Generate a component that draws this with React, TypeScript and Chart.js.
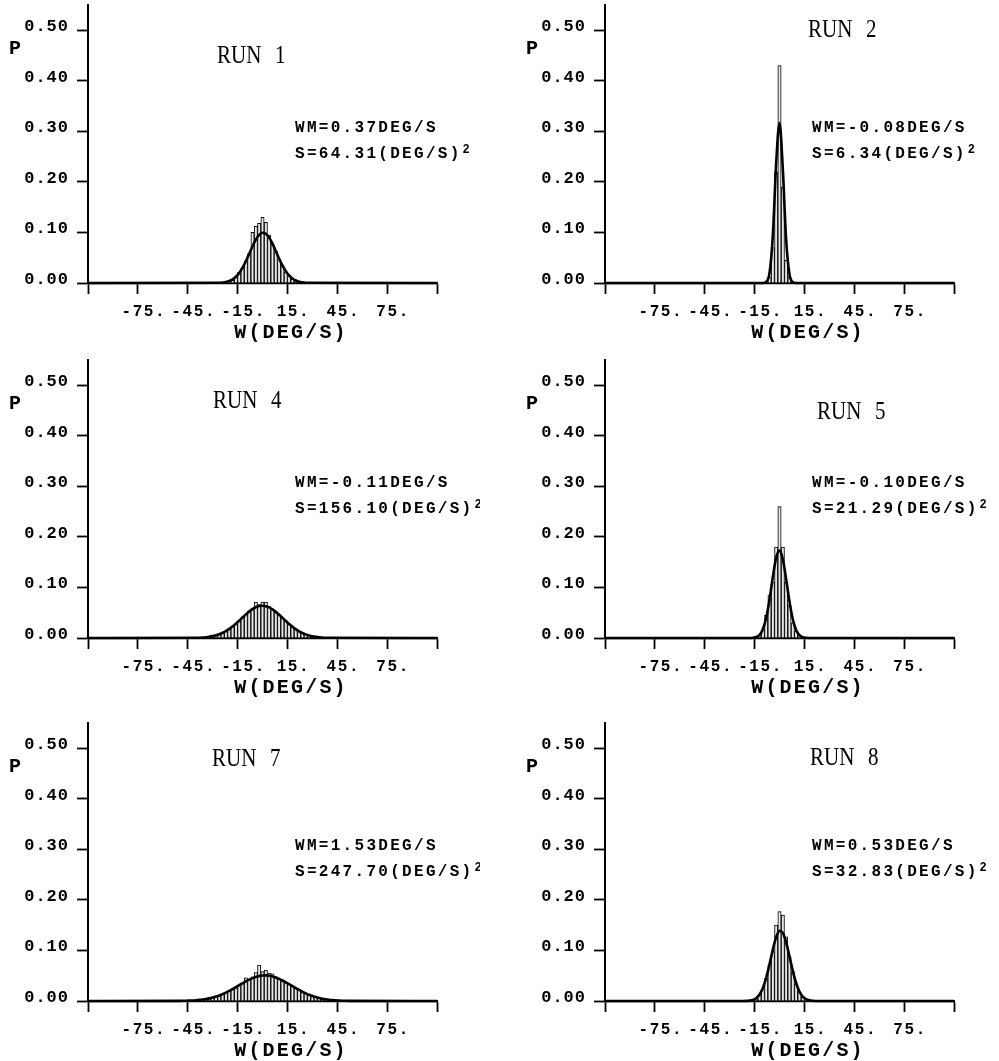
import React, { useEffect, useRef } from "react";
import { Chart, registerables } from "chart.js";

Chart.register(...registerables);

// ---------- axes ----------
const X_MIN = -105;
const X_MAX = 105;
const Y_MIN = 0;
const Y_MAX = 0.55;
const X_TICKS = [-105, -75, -45, -15, 15, 45, 75, 105];
const X_TICK_LABELS = ["", "-75.", "-45.", "-15.", "15.", "45.", "75.", ""];
const Y_TICKS = [0, 0.1, 0.2, 0.3, 0.4, 0.5];
const Y_TICK_LABELS = ["0.00", "0.10", "0.20", "0.30", "0.40", "0.50"];
const X_TITLE = "W(DEG/S)";
const Y_TITLE = "P";

// ---------- texts ----------
const RUN_NAMES = ["RUN 1", "RUN 2", "RUN 4", "RUN 5", "RUN 7", "RUN 8"];
const RUN_WM = ["WM=0.37DEG/S", "WM=-0.08DEG/S", "WM=-0.11DEG/S", "WM=-0.10DEG/S", "WM=1.53DEG/S", "WM=0.53DEG/S"];
const RUN_S = ["S=64.31(DEG/S)", "S=6.34(DEG/S)", "S=156.10(DEG/S)", "S=21.29(DEG/S)", "S=247.70(DEG/S)", "S=32.83(DEG/S)"];

// ---------- RUN 1 ----------
const RUN1_BIN_X = [-20, -18, -16, -14, -12, -10, -8, -6, -4, -2, 0, 2, 4, 6, 8, 10, 12, 14, 16, 18, 20, 22];
const RUN1_BARS = [0.003, 0.006, 0.012, 0.021, 0.029, 0.044, 0.058, 0.1, 0.112, 0.118, 0.13, 0.12, 0.095, 0.076, 0.062, 0.047, 0.034, 0.022, 0.014, 0.008, 0.004, 0.002];
const RUN1_CURVE_X = [-26, -24, -22, -20, -18, -16, -14, -12, -10, -8, -6, -4, -2, 0, 2, 4, 6, 8, 10, 12, 14, 16, 18, 20, 22, 24, 26];
const RUN1_CURVE = [0.0004, 0.001, 0.002, 0.004, 0.0072, 0.0124, 0.02, 0.0303, 0.0431, 0.0577, 0.0726, 0.0858, 0.0952, 0.0994, 0.0975, 0.0898, 0.0778, 0.0633, 0.0484, 0.0347, 0.0235, 0.0149, 0.0089, 0.005, 0.0026, 0.0013, 0.0006];

// ---------- RUN 2 ----------
const RUN2_BIN_X = [-8, -6, -4, -2, 0, 2, 4, 6, 8];
const RUN2_BARS = [0.002, 0.012, 0.07, 0.22, 0.43, 0.19, 0.045, 0.012, 0.002];
const RUN2_CURVE_X = [-10, -8, -6, -4, -2, 0, 2, 4, 6, 8, 10];
const RUN2_CURVE = [0.0001, 0.0023, 0.02, 0.0943, 0.237, 0.3167, 0.2253, 0.0853, 0.0172, 0.0018, 0.0001];

// ---------- RUN 4 ----------
const RUN4_BIN_X = [-36, -34, -32, -30, -28, -26, -24, -22, -20, -18, -16, -14, -12, -10, -8, -6, -4, -2, 0, 2, 4, 6, 8, 10, 12, 14, 16, 18, 20, 22, 24, 26, 28, 30, 32, 34, 36];
const RUN4_BARS = [0.001, 0.0015, 0.002, 0.004, 0.005, 0.008, 0.01, 0.014, 0.018, 0.024, 0.028, 0.033, 0.042, 0.047, 0.054, 0.058, 0.071, 0.066, 0.071, 0.071, 0.062, 0.057, 0.051, 0.047, 0.04, 0.034, 0.028, 0.022, 0.018, 0.013, 0.01, 0.007, 0.005, 0.004, 0.002, 0.0015, 0.001];
const RUN4_CURVE_X = [-40, -38, -36, -34, -32, -30, -28, -26, -24, -22, -20, -18, -16, -14, -12, -10, -8, -6, -4, -2, 0, 2, 4, 6, 8, 10, 12, 14, 16, 18, 20, 22, 24, 26, 28, 30, 32, 34, 36, 38, 40];
const RUN4_CURVE = [0.0004, 0.0006, 0.001, 0.0016, 0.0025, 0.0037, 0.0053, 0.0075, 0.0103, 0.0138, 0.018, 0.0229, 0.0284, 0.0344, 0.0406, 0.0467, 0.0523, 0.0571, 0.0608, 0.0631, 0.0639, 0.063, 0.0605, 0.0567, 0.0517, 0.046, 0.0399, 0.0338, 0.0278, 0.0223, 0.0175, 0.0133, 0.0099, 0.0072, 0.0051, 0.0035, 0.0024, 0.0015, 0.001, 0.0006, 0.0004];

// ---------- RUN 5 ----------
const RUN5_BIN_X = [-14, -12, -10, -8, -6, -4, -2, 0, 2, 4, 6, 8, 10, 12, 14];
const RUN5_BARS = [0.002, 0.005, 0.016, 0.045, 0.085, 0.11, 0.18, 0.26, 0.18, 0.11, 0.065, 0.03, 0.013, 0.005, 0.002];
const RUN5_CURVE_X = [-18, -16, -14, -12, -10, -8, -6, -4, -2, 0, 2, 4, 6, 8, 10, 12, 14, 16, 18];
const RUN5_CURVE = [0.0001, 0.0005, 0.0019, 0.0062, 0.0173, 0.0399, 0.0763, 0.121, 0.1589, 0.1729, 0.1559, 0.1165, 0.0722, 0.037, 0.0158, 0.0056, 0.0016, 0.0004, 0.0001];

// ---------- RUN 7 ----------
const RUN7_BIN_X = [-40, -38, -36, -34, -32, -30, -28, -26, -24, -22, -20, -18, -16, -14, -12, -10, -8, -6, -4, -2, 0, 2, 4, 6, 8, 10, 12, 14, 16, 18, 20, 22, 24, 26, 28, 30, 32, 34, 36, 38, 40];
const RUN7_BARS = [0.001, 0.002, 0.003, 0.004, 0.005, 0.007, 0.009, 0.011, 0.013, 0.017, 0.019, 0.024, 0.026, 0.031, 0.036, 0.046, 0.043, 0.048, 0.056, 0.071, 0.058, 0.061, 0.055, 0.054, 0.048, 0.044, 0.04, 0.037, 0.033, 0.029, 0.025, 0.022, 0.018, 0.015, 0.012, 0.01, 0.008, 0.006, 0.005, 0.003, 0.002];
const RUN7_CURVE_X = [-50, -48, -46, -44, -42, -40, -38, -36, -34, -32, -30, -28, -26, -24, -22, -20, -18, -16, -14, -12, -10, -8, -6, -4, -2, 0, 2, 4, 6, 8, 10, 12, 14, 16, 18, 20, 22, 24, 26, 28, 30, 32, 34, 36, 38, 40, 42, 44, 46, 48, 50, 52];
const RUN7_CURVE = [0.0002, 0.0004, 0.0005, 0.0008, 0.0011, 0.0016, 0.0022, 0.003, 0.004, 0.0052, 0.0068, 0.0087, 0.011, 0.0136, 0.0166, 0.0199, 0.0235, 0.0273, 0.0312, 0.035, 0.0388, 0.0422, 0.0452, 0.0477, 0.0494, 0.0505, 0.0507, 0.0501, 0.0487, 0.0466, 0.0439, 0.0406, 0.037, 0.0332, 0.0293, 0.0255, 0.0218, 0.0183, 0.0151, 0.0123, 0.0099, 0.0078, 0.006, 0.0046, 0.0035, 0.0026, 0.0019, 0.0013, 0.0009, 0.0006, 0.0004, 0.0003];

// ---------- RUN 8 ----------
const RUN8_BIN_X = [-16, -14, -12, -10, -8, -6, -4, -2, 0, 2, 4, 6, 8, 10, 12, 14, 16];
const RUN8_BARS = [0.002, 0.005, 0.012, 0.024, 0.045, 0.072, 0.098, 0.15, 0.177, 0.17, 0.127, 0.088, 0.058, 0.034, 0.017, 0.008, 0.003];
const RUN8_CURVE_X = [-22, -20, -18, -16, -14, -12, -10, -8, -6, -4, -2, 0, 2, 4, 6, 8, 10, 12, 14, 16, 18, 20, 22];
const RUN8_CURVE = [0.0001, 0.0002, 0.0007, 0.0022, 0.0056, 0.0127, 0.0257, 0.046, 0.0728, 0.1019, 0.1264, 0.1387, 0.1348, 0.116, 0.0883, 0.0596, 0.0356, 0.0188, 0.0088, 0.0036, 0.0013, 0.0004, 0.0001];

// ---------- layout (pixels) ----------
const COL_LEFT = [0, 500];
const COL_WIDTH = [480, 499];
const COL_AXIS = [88, 105];
const PLOT_W = 349;
const ROW_ZERO = [283, 638, 1001];
const ABOVE_ZERO = 290;
const BELOW_ZERO = 60;
const PLOT_H = 278;

type PanelDef = {
  idx: number;
  col: number;
  row: number;
  binX: number[];
  bars: number[];
  curveX: number[];
  curve: number[];
  runDx: number;
  runDy: number;
};

const PANELS: PanelDef[] = [
  { idx: 0, col: 0, row: 0, binX: RUN1_BIN_X, bars: RUN1_BARS, curveX: RUN1_CURVE_X, curve: RUN1_CURVE, runDx: 129, runDy: -220 },
  { idx: 1, col: 1, row: 0, binX: RUN2_BIN_X, bars: RUN2_BARS, curveX: RUN2_CURVE_X, curve: RUN2_CURVE, runDx: 203, runDy: -246 },
  { idx: 2, col: 0, row: 1, binX: RUN4_BIN_X, bars: RUN4_BARS, curveX: RUN4_CURVE_X, curve: RUN4_CURVE, runDx: 125, runDy: -230 },
  { idx: 3, col: 1, row: 1, binX: RUN5_BIN_X, bars: RUN5_BARS, curveX: RUN5_CURVE_X, curve: RUN5_CURVE, runDx: 212, runDy: -219 },
  { idx: 4, col: 0, row: 2, binX: RUN7_BIN_X, bars: RUN7_BARS, curveX: RUN7_CURVE_X, curve: RUN7_CURVE, runDx: 124, runDy: -235 },
  { idx: 5, col: 1, row: 2, binX: RUN8_BIN_X, bars: RUN8_BARS, curveX: RUN8_CURVE_X, curve: RUN8_CURVE, runDx: 205, runDy: -236 },
];

const MONO = '"Liberation Mono", "DejaVu Sans Mono", monospace';

function makeTextPlugin(p: PanelDef) {
  return {
    id: "panelText" + p.idx,
    afterDraw(chart: any) {
      const ctx: CanvasRenderingContext2D = chart.ctx;
      const xs = chart.scales.x;
      const ys = chart.scales.y;
      const ax = chart.chartArea.left;
      const zy = ys.getPixelForValue(0);
      const c: any = ctx;
      ctx.save();
      ctx.fillStyle = "#000";
      ctx.textBaseline = "alphabetic";

      // y tick labels
      ctx.font = "bold 17px " + MONO;
      c.letterSpacing = "1px";
      ctx.textAlign = "right";
      Y_TICKS.forEach((v, i) => {
        ctx.fillText(Y_TICK_LABELS[i], ax - 19, ys.getPixelForValue(v) + 1);
      });

      // x tick labels
      ctx.font = "bold 16px " + MONO;
      c.letterSpacing = "1.6px";
      ctx.textAlign = "center";
      X_TICKS.forEach((v, i) => {
        const t = X_TICK_LABELS[i];
        if (!t) return;
        ctx.fillText(t, xs.getPixelForValue(v) + 6, zy + 33);
      });

      // x title
      ctx.font = "bold 20px " + MONO;
      c.letterSpacing = "2.2px";
      ctx.textAlign = "center";
      ctx.fillText(X_TITLE, ax + 203, zy + 55);

      // y title
      ctx.font = "bold 20px " + MONO;
      c.letterSpacing = "0px";
      ctx.textAlign = "left";
      ctx.fillText(Y_TITLE, ax - 79, ys.getPixelForValue(0.5) + 24);

      // WM / S
      ctx.font = "bold 16px " + MONO;
      c.letterSpacing = "2.3px";
      ctx.textAlign = "left";
      ctx.fillText(RUN_WM[p.idx], ax + 207, zy - 151);
      ctx.fillText(RUN_S[p.idx], ax + 207, zy - 125);
      const sw = ctx.measureText(RUN_S[p.idx]).width;
      ctx.font = "bold 12px " + MONO;
      c.letterSpacing = "0px";
      ctx.fillText("2", ax + 207 + sw + 1, zy - 130);

      // RUN label
      ctx.font = '25px "Liberation Serif", serif';
      c.letterSpacing = "0px";
      c.wordSpacing = "10px";
      ctx.translate(ax + p.runDx, zy + p.runDy);
      ctx.scale(0.84, 1);
      ctx.fillText(RUN_NAMES[p.idx], 0, 0);
      ctx.restore();
    },
  };
}

function Panel({ p }: { p: PanelDef }) {
  const ref = useRef<HTMLCanvasElement | null>(null);
  const width = COL_WIDTH[p.col];
  const height = ABOVE_ZERO + BELOW_ZERO;
  const left = COL_LEFT[p.col];
  const top = ROW_ZERO[p.row] - ABOVE_ZERO;
  const axisOff = COL_AXIS[p.col];

  useEffect(() => {
    if (!ref.current) return;
    const curvePts = [{ x: X_MIN, y: 0 }]
      .concat(p.curveX.map((x, i) => ({ x, y: p.curve[i] })))
      .concat([{ x: X_MAX, y: 0 }]);
    const barPts = p.binX.map((x, i) => ({ x, y: p.bars[i] }));
    const tickGrid = {
      display: true,
      drawOnChartArea: false,
      drawTicks: true,
      tickLength: 11,
      tickColor: "#000",
      tickWidth: 1.8,
      offset: false,
      color: "#000",
    };
    const chart = new Chart(ref.current, {
      type: "bar",
      data: {
        datasets: [
          {
            type: "line",
            data: curvePts,
            borderColor: "#000",
            borderWidth: 2.6,
            pointRadius: 0,
            cubicInterpolationMode: "monotone",
            order: 0,
            clip: false,
          } as any,
          {
            type: "bar",
            data: barPts,
            backgroundColor: "#e6e6e6",
            borderColor: "#000",
            borderWidth: 1,
            barPercentage: 1,
            categoryPercentage: 1,
            order: 1,
          } as any,
        ],
      },
      options: {
        responsive: false,
        animation: false,
        devicePixelRatio: 1,
        layout: {
          padding: { left: 0, right: width - axisOff - PLOT_W, top: ABOVE_ZERO - PLOT_H, bottom: 0 },
        },
        plugins: {
          legend: { display: false },
          tooltip: { enabled: false },
          title: { display: false },
        },
        scales: {
          x: {
            type: "linear",
            min: X_MIN,
            max: X_MAX,
            offset: false,
            afterBuildTicks: (s: any) => {
              s.ticks = X_TICKS.map((v) => ({ value: v }));
            },
            afterFit: (s: any) => {
              s.height = BELOW_ZERO;
            },
            ticks: { display: false },
            grid: tickGrid,
            border: { display: true, color: "#000", width: 2.2 },
          },
          y: {
            type: "linear",
            min: Y_MIN,
            max: Y_MAX,
            afterBuildTicks: (s: any) => {
              s.ticks = Y_TICKS.map((v) => ({ value: v }));
            },
            afterFit: (s: any) => {
              s.width = axisOff;
            },
            ticks: { display: false },
            grid: tickGrid,
            border: { display: true, color: "#000", width: 2 },
          },
        },
      } as any,
      plugins: [makeTextPlugin(p)],
    });
    return () => chart.destroy();
  }, []);

  return (
    <canvas
      ref={ref}
      width={width}
      height={height}
      style={{ position: "absolute", left, top, width, height, display: "block" }}
    />
  );
}

export default function App() {
  return (
    <div style={{ position: "absolute", left: 0, top: 0, width: 999, height: 1061, background: "#fff", overflow: "hidden" }}>
      {PANELS.map((p) => (
        <Panel key={p.idx} p={p} />
      ))}
    </div>
  );
}
